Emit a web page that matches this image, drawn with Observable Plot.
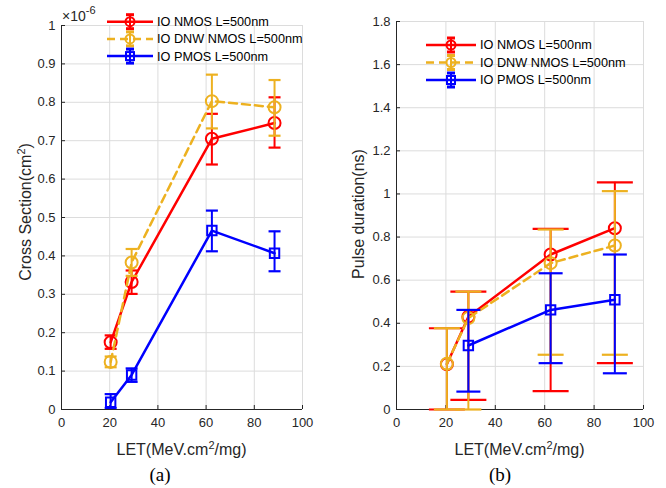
<!DOCTYPE html>
<html><head><meta charset="utf-8">
<script src="https://cdn.jsdelivr.net/npm/d3@7"></script>
<script src="https://cdn.jsdelivr.net/npm/@observablehq/plot@0.6"></script>
<style>
body{margin:0;background:#fff}
#fig{position:relative;width:666px;height:488px;overflow:hidden;background:#fff}
#fig svg{position:absolute;top:0}
</style></head><body><div id="fig"></div>
<script>
// ---------- data ----------
const LET = [20.4, 29.1, 62.4, 88.4];
const seriesNames = ["IO NMOS L=500nm", "IO DNW NMOS L=500nm", "IO PMOS L=500nm"];
const xTicks = [0, 20, 40, 60, 80, 100];
const yTicksA = [0, 0.1, 0.2, 0.3, 0.4, 0.5, 0.6, 0.7, 0.8, 0.9, 1];
const yTicksB = [0, 0.2, 0.4, 0.6, 0.8, 1, 1.2, 1.4, 1.6, 1.8];

// (a) cross section (x 1e-6 cm^2)
const csNMOS   = [0.175, 0.332, 0.705, 0.746];
const csNMOSLo = [0.158, 0.301, 0.638, 0.682];
const csNMOSHi = [0.193, 0.362, 0.770, 0.813];
const csDNW    = [0.124, 0.383, 0.803, 0.787];
const csDNWLo  = [0.110, 0.348, 0.732, 0.713];
const csDNWHi  = [0.138, 0.418, 0.872, 0.858];
const csPMOS   = [0.019, 0.090, 0.466, 0.407];
const csPMOSLo = [0.004, 0.072, 0.412, 0.360];
const csPMOSHi = [0.040, 0.107, 0.518, 0.464];

// (b) pulse duration (ns)
const pdNMOS   = [0.21, 0.43, 0.719, 0.841];
const pdNMOSLo = [0, 0.045, 0.085, 0.215];
const pdNMOSHi = [0.377, 0.547, 0.838, 1.054];
const pdDNW    = [0.212, 0.424, 0.679, 0.761];
const pdDNWLo  = [0, 0, 0.254, 0.254];
const pdDNWHi  = [0.377, 0.547, 0.835, 1.013];
const pdPMOS   = [null, 0.297, 0.462, 0.509];
const pdPMOSLo = [null, 0.083, 0.215, 0.168];
const pdPMOSHi = [null, 0.462, 0.632, 0.719];

// ---------- styles ----------
const FONT = "'Liberation Sans', Arial, Helvetica, sans-serif";
const INK = "#262626";
const colors = ["#ff0000", "#EDB120", "#0000ff"];
const symbols = ["circle", "circle", "square"];
const dashes = [null, "8,5", null];
const hline = {draw(ctx, size) { const r = Math.sqrt(size / Math.PI); ctx.moveTo(-r, 0); ctx.lineTo(r, 0); }};

function rows(v, lo, hi) {
  return LET.map((x, i) => ({x, y: v[i], lo: lo[i], hi: hi[i]})).filter(d => d.y != null);
}

function panel(cfg) {
  const marks = [
    Plot.gridX(xTicks, {stroke: "#dcdcdc", strokeOpacity: 1}),
    Plot.gridY(cfg.yTicks, {stroke: "#dcdcdc", strokeOpacity: 1}),
    Plot.ruleX([0], {stroke: INK}),
    Plot.ruleY([0], {stroke: INK}),
    Plot.axisX(xTicks, {tickSize: -4, tickPadding: 12, stroke: INK, fill: INK, fontSize: 13, label: null}),
    Plot.axisY(cfg.yTicks, {tickSize: -4, tickPadding: 10, stroke: INK, fill: INK, fontSize: 13, label: null, tickFormat: d => String(d)})
  ];
  cfg.series.forEach((s, k) => {
    const data = rows(...s);
    const c = colors[k];
    marks.push(Plot.line(data, {x: "x", y: "y", stroke: c, strokeWidth: 2.5, strokeDasharray: dashes[k]}));
    marks.push(Plot.ruleX(data, {x: "x", y1: "lo", y2: "hi", stroke: c, strokeWidth: 2}));
    marks.push(Plot.dot(data, {x: "x", y: "lo", symbol: hline, r: cfg.caps[k], stroke: c, strokeWidth: 2.2, fill: "none"}));
    marks.push(Plot.dot(data, {x: "x", y: "hi", symbol: hline, r: cfg.caps[k], stroke: c, strokeWidth: 2.2, fill: "none"}));
    marks.push(Plot.dot(data, {x: "x", y: "y", symbol: symbols[k], r: symbols[k] === "square" ? 5.3 : 6, stroke: c, strokeWidth: 2, fill: "none"}));
  });
  const svg = Plot.plot({
    width: 333, height: 488,
    marginLeft: cfg.m[0], marginRight: cfg.m[1], marginTop: cfg.m[2], marginBottom: cfg.m[3],
    style: {fontFamily: FONT, fontSize: "13px", color: INK, background: "transparent", overflow: "visible"},
    x: {domain: [0, 100]},
    y: {domain: cfg.yDomain},
    marks
  });
  svg.style.left = cfg.left + "px";
  const g = d3.select(svg);
  const x0 = cfg.m[0], x1 = 333 - cfg.m[1];
  // x label
  const xl = g.append("text").attr("x", (x0 + x1) / 2).attr("y", 455).attr("text-anchor", "middle")
    .attr("font-family", FONT).attr("font-size", 16).attr("fill", INK);
  xl.append("tspan").text("LET(MeV.cm");
  xl.append("tspan").attr("dy", -6).attr("font-size", 11).text("2");
  xl.append("tspan").attr("dy", 6).text("/mg)");
  // y label
  const yl = g.append("text").attr("transform", `translate(${cfg.yLabelX},${cfg.yLabelY}) rotate(-90)`)
    .attr("text-anchor", "middle").attr("font-family", FONT).attr("font-size", 16).attr("fill", INK);
  cfg.yLabel(yl);
  // panel letter
  g.append("text").attr("x", cfg.letterX).attr("y", 481).attr("text-anchor", "middle")
    .attr("font-family", "'Liberation Serif', 'Times New Roman', serif").attr("font-size", 19).attr("fill", "#000").text(cfg.letter);
  // legend
  const L = cfg.legend;
  seriesNames.forEach((name, k) => {
    const y = L.y0 + k * L.dy, c = colors[k];
    const lg = g.append("g");
    lg.append("line").attr("x1", L.x1).attr("x2", L.x2).attr("y1", y).attr("y2", y)
      .attr("stroke", c).attr("stroke-width", 2.5).attr("stroke-dasharray", dashes[k]);
    const cx = (L.x1 + L.x2) / 2;
    lg.append("line").attr("x1", cx).attr("x2", cx).attr("y1", y - 7).attr("y2", y + 7).attr("stroke", c).attr("stroke-width", 2);
    lg.append("line").attr("x1", cx - 4).attr("x2", cx + 4).attr("y1", y - 7).attr("y2", y - 7).attr("stroke", c).attr("stroke-width", 3);
    lg.append("line").attr("x1", cx - 4).attr("x2", cx + 4).attr("y1", y + 7).attr("y2", y + 7).attr("stroke", c).attr("stroke-width", 3);
    if (symbols[k] === "square")
      lg.append("rect").attr("x", cx - 4).attr("y", y - 4).attr("width", 8).attr("height", 8).attr("fill", "none").attr("stroke", c).attr("stroke-width", 2);
    else
      lg.append("circle").attr("cx", cx).attr("cy", y).attr("r", 4.5).attr("fill", "none").attr("stroke", c).attr("stroke-width", 2);
    lg.append("text").attr("x", L.tx).attr("y", y).attr("dy", "0.35em").attr("text-anchor", "start").attr("font-family", FONT)
      .attr("font-size", 12.7).attr("fill", "#000").text(name);
  });
  if (cfg.extra) cfg.extra(g);
  return svg;
}

const fig = document.getElementById("fig");

fig.appendChild(panel({
  left: 0,
  m: [61, 31, 25, 79],
  yDomain: [0, 1], yTicks: yTicksA,
  caps: [6, 6, 6],
  series: [[csNMOS, csNMOSLo, csNMOSHi], [csDNW, csDNWLo, csDNWHi], [csPMOS, csPMOSLo, csPMOSHi]],
  yLabelX: 31, yLabelY: 212,
  yLabel: t => { t.append("tspan").text("Cross Section(cm"); t.append("tspan").attr("dy", -6).attr("font-size", 11).text("2"); t.append("tspan").attr("dy", 6).text(")"); },
  letter: "(a)", letterX: 160,
  legend: {x1: 107, x2: 153, tx: 157, y0: 21.7, dy: 17.2},
  extra: g => {
    const t = g.append("text").attr("x", 62).attr("y", 21).attr("text-anchor", "start").attr("font-family", FONT).attr("font-size", 14).attr("fill", INK);
    t.append("tspan").text("\u00d710");
    t.append("tspan").attr("dy", -7).attr("font-size", 11).text("-6");
  }
}));

fig.appendChild(panel({
  left: 333,
  m: [63, 23, 21, 79],
  yDomain: [0, 1.8], yTicks: yTicksB,
  caps: [18, 13, 12],
  series: [[pdNMOS, pdNMOSLo, pdNMOSHi], [pdDNW, pdDNWLo, pdDNWHi], [pdPMOS, pdPMOSLo, pdPMOSHi]],
  yLabelX: 31, yLabelY: 214,
  yLabel: t => t.text("Pulse duration(ns)"),
  letter: "(b)", letterX: 167,
  legend: {x1: 93, x2: 143, tx: 147, y0: 45, dy: 17.5}
}));
</script></body></html>
